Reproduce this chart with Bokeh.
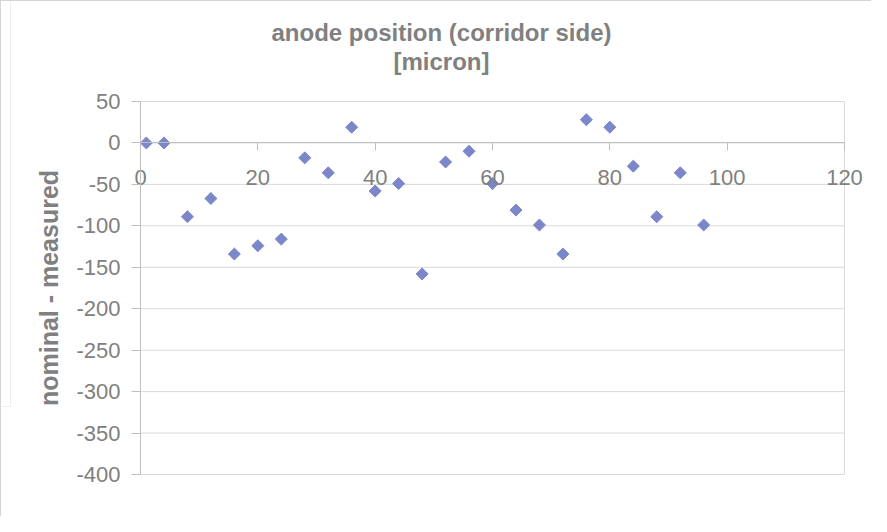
import math
from bokeh.plotting import figure
from bokeh.models import Label, BoxAnnotation, FixedTicker, Range1d, PrintfTickFormatter
from bokeh.embed import file_html
from bokeh.resources import INLINE

# ---- data ----
channel = [1, 4, 8, 12, 16, 20, 24, 28, 32, 36, 40, 44, 48,
           52, 56, 60, 64, 68, 72, 76, 80, 84, 88, 92, 96]
deviation = [0, 0, -89, -67, -134, -124, -116, -18, -36, 19, -58, -49, -158,
             -23, -10, -49, -81, -99, -134, 28, 19, -28, -89, -36, -99]
x_ticks = [0, 20, 40, 60, 80, 100, 120]
y_ticks = [-400, -350, -300, -250, -200, -150, -100, -50, 0, 50]
title_line1 = "anode position (corridor side)"
title_line2 = "[micron]"
y_label = "nominal - measured"

FONT = "Liberation Sans"
GREY_TEXT = "#808080"
AXIS_COL = "#bfbfbf"
GRID_COL = "#d9d9d9"
MARK_COL = "#7b87c9"

W, H = 871, 516
# plot area: x 0..120 -> 139..843 px inside the canvas, y 50..-400 -> 100..473 px
XPX = 704 / 120.0
YPX = 373 / 450.0
x_start = -139 / XPX
y_end = 50 + 100 / YPX

p = figure(width=W, height=H, output_backend="svg", toolbar_location=None,
           x_range=Range1d(x_start, x_start + W / XPX),
           y_range=Range1d(y_end - H / YPX, y_end),
           min_border_left=0, min_border_right=0,
           min_border_top=0, min_border_bottom=0)
p.styles = {"border-top": "1px solid #d4d4d4", "border-left": "1px solid #d4d4d4"}

p.background_fill_color = "white"
p.border_fill_color = "white"
p.outline_line_color = None
p.xgrid.grid_line_color = None
p.ygrid.grid_line_color = None

x0, x1 = x_ticks[0], x_ticks[-1]
y0, y1 = y_ticks[0], y_ticks[-1]

# horizontal gridlines and plot-area border
p.segment(x0=[x0] * len(y_ticks), x1=[x1] * len(y_ticks), y0=y_ticks, y1=y_ticks,
          line_color=GRID_COL, line_width=1)
p.segment(x0=[x1], x1=[x1], y0=[y0], y1=[y1], line_color=GRID_COL, line_width=1)

# x axis crossing at y = 0
xa = p.xaxis[0]
xa.fixed_location = 0
xa.bounds = (x0, x1)
xa.ticker = FixedTicker(ticks=x_ticks)
xa.formatter = PrintfTickFormatter(format="%d")
xa.axis_line_color = AXIS_COL
xa.major_tick_line_color = AXIS_COL
xa.major_tick_in = 0
xa.major_tick_out = 8
xa.minor_tick_line_color = None
xa.major_label_standoff = 19
xa.major_label_text_font = FONT
xa.major_label_text_font_size = "22px"
xa.major_label_text_color = GREY_TEXT

ya = p.yaxis[0]
ya.fixed_location = 0
ya.bounds = (y0, y1)
ya.ticker = FixedTicker(ticks=y_ticks)
ya.formatter = PrintfTickFormatter(format="%d")
ya.axis_line_color = AXIS_COL
ya.major_tick_line_color = AXIS_COL
ya.major_tick_in = 0
ya.major_tick_out = 9
ya.minor_tick_line_color = None
ya.major_label_standoff = 11
ya.major_label_text_font = FONT
ya.major_label_text_font_size = "22px"
ya.major_label_text_color = GREY_TEXT
ya.axis_label = y_label
ya.axis_label_text_font = FONT
ya.axis_label_text_font_size = "25px"
ya.axis_label_text_font_style = "bold"
ya.axis_label_text_color = GREY_TEXT
ya.axis_label_standoff = 10

p.scatter(channel, deviation, marker="square", angle=math.pi / 4, size=8.5,
          fill_color=MARK_COL, line_color=MARK_COL)

title_x = (448 - 147) / XPX
for txt, py in ((title_line1, 39), (title_line2, 68)):
    p.add_layout(Label(x=title_x, y=50 + (108 - py) / YPX, text=txt,
                       text_align="center", text_baseline="alphabetic",
                       text_font=FONT, text_font_size="24px", text_font_style="bold",
                       text_color=GREY_TEXT))

# second, partly hidden chart frame at the left edge
p.add_layout(BoxAnnotation(left=x_start - 10, right=(17 - 147) / XPX,
                           top=y_end + 50, bottom=50 - (413 - 108) / YPX,
                           fill_color=None, line_color="#c8c8c8", line_width=1))

open("out.html", "w").write(file_html(p, INLINE))
